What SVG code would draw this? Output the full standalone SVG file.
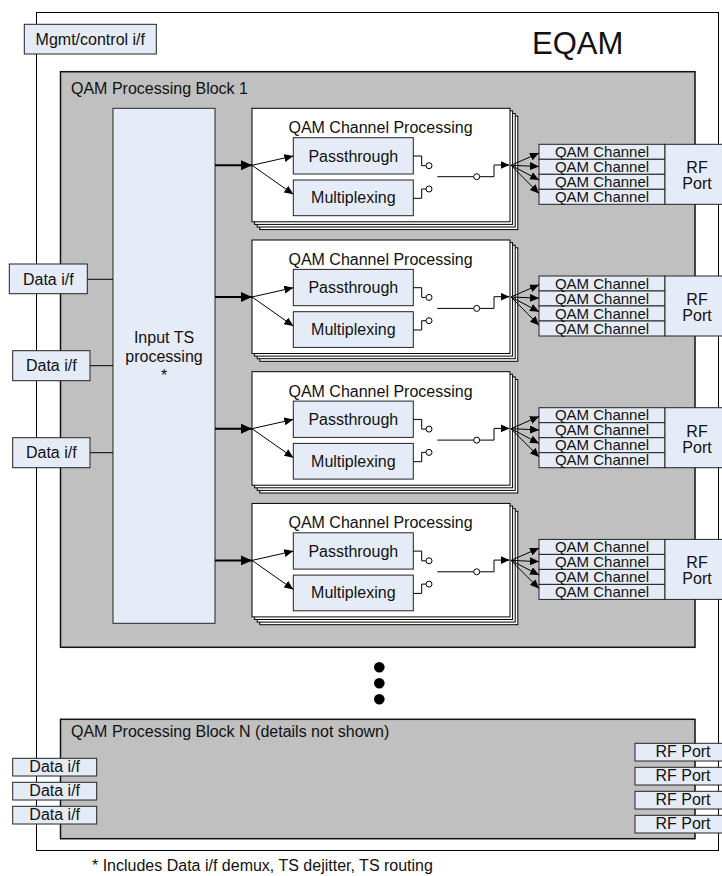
<svg xmlns="http://www.w3.org/2000/svg" width="722" height="876" viewBox="0 0 722 876">
<defs>
<style>
text{font-family:"Liberation Sans",Arial,sans-serif;fill:#111;}
.t16{font-size:16px;}
.t15{font-size:15px;}
.mid{text-anchor:middle;}
.lb{fill:#E6ECF7;stroke:#222;stroke-width:1;}
.wh{fill:#fff;stroke:#000;stroke-width:1;}
.gr{fill:#C0C0C0;stroke:#111;stroke-width:1.5;}
.ln{fill:none;stroke:#000;stroke-width:1;}
.thk{fill:none;stroke:#000;stroke-width:2;}
.sw{fill:#fff;stroke:#000;stroke-width:1;}
</style>
<marker id="ah" markerUnits="userSpaceOnUse" markerWidth="9" markerHeight="8" refX="9" refY="4" orient="auto"><path d="M0,0 L9,4 L0,8 z" fill="#000"/></marker>
<marker id="ahb" markerUnits="userSpaceOnUse" markerWidth="11" markerHeight="10" refX="11" refY="5" orient="auto"><path d="M0,0 L11,5 L0,10 z" fill="#000"/></marker>
<g id="chanproc">
<rect class="wh" x="259.8" y="7.8" width="258" height="113.5"/>
<rect class="wh" x="257.2" y="5.2" width="258" height="113.5"/>
<rect class="wh" x="254.6" y="2.6" width="258" height="113.5"/>
<rect class="wh" x="252" y="0" width="258" height="113.5"/>
<text class="t16 mid" x="380.5" y="25">QAM Channel Processing</text>
<rect class="lb" x="293.3" y="29.4" width="120" height="36.3"/>
<text class="t16 mid" x="353.3" y="53.3">Passthrough</text>
<rect class="lb" x="293.3" y="71.7" width="120" height="35.7"/>
<text class="t16 mid" x="353.3" y="95">Multiplexing</text>
</g>
<g id="qamrf">
<rect class="lb" x="539" y="36" width="126" height="15"/>
<rect class="lb" x="539" y="51" width="126" height="15"/>
<rect class="lb" x="539" y="66" width="126" height="15"/>
<rect class="lb" x="539" y="81" width="126" height="15"/>
<text class="t15 mid" x="602" y="48.5">QAM Channel</text>
<text class="t15 mid" x="602" y="63.5">QAM Channel</text>
<text class="t15 mid" x="602" y="78.5">QAM Channel</text>
<text class="t15 mid" x="602" y="93.5">QAM Channel</text>
<rect class="lb" x="665" y="36" width="65" height="60"/>
<text class="t16 mid" x="697" y="65">RF</text>
<text class="t16 mid" x="697" y="81">Port</text>
</g>
<g id="conn">
<path class="thk" d="M215,57 H252" marker-end="url(#ahb)"/>
<path class="ln" d="M252,57 L293.3,47.7" marker-end="url(#ah)"/>
<path class="ln" d="M252,57 L293.3,86" marker-end="url(#ah)"/>
<path class="ln" d="M413.3,47.7 H421.7 V57.4 H426"/>
<circle class="sw" cx="429" cy="57.4" r="3"/>
<path class="ln" d="M413.3,90 H421.7 V80.7 H426"/>
<circle class="sw" cx="429" cy="80.7" r="3"/>
<path class="ln" d="M437.3,68.4 H473.7"/>
<circle class="sw" cx="476.7" cy="68.4" r="3"/>
<path class="ln" d="M479.7,68.4 H494 V56.7 H509.5" marker-end="url(#ah)"/>
<path class="ln" d="M511,57 L539,44.7" marker-end="url(#ah)"/>
<path class="ln" d="M511,57 L539,58.2" marker-end="url(#ah)"/>
<path class="ln" d="M511,57 L539,71.7" marker-end="url(#ah)"/>
<path class="ln" d="M511,57 L539,85.2" marker-end="url(#ah)"/>
</g>
</defs>

<g id="eqam">
<rect class="wh" x="36.5" y="12.5" width="682" height="838"/>
<text x="532" y="54.3" style="font-size:31px">EQAM</text>
</g>

<g id="mgmt">
<rect class="lb" x="24.3" y="24.3" width="132" height="29.7"/>
<text class="t16 mid" x="90.3" y="44.5">Mgmt/control i/f</text>
</g>

<g id="block1">
<rect class="gr" x="60.5" y="71.7" width="634.5" height="575.6"/>
<text class="t16" x="71" y="93.5">QAM Processing Block 1</text>
</g>

<g id="input-ts">
<rect class="lb" x="113" y="108.3" width="102" height="515"/>
<text class="t16 mid" x="164" y="343">Input TS</text>
<text class="t16 mid" x="164" y="362">processing</text>
<text class="t16 mid" x="164" y="381">*</text>
</g>

<g id="chan1"><use href="#chanproc" transform="translate(0,108.3)"/><use href="#qamrf" transform="translate(0,108.3)"/></g>
<g id="chan2"><use href="#chanproc" transform="translate(0,240)"/><use href="#qamrf" transform="translate(0,240)"/></g>
<g id="chan3"><use href="#chanproc" transform="translate(0,371.7)"/><use href="#qamrf" transform="translate(0,371.7)"/></g>
<g id="chan4"><use href="#chanproc" transform="translate(0,503.4)"/><use href="#qamrf" transform="translate(0,503.4)"/></g>

<g id="connectors">
<use href="#conn" transform="translate(0,108.3)"/>
<use href="#conn" transform="translate(0,240)"/>
<use href="#conn" transform="translate(0,371.7)"/>
<use href="#conn" transform="translate(0,503.4)"/>
<path class="ln" d="M87.3,279.3 H113"/>
<path class="ln" d="M90,365.7 H113"/>
<path class="ln" d="M90,452.7 H113"/>
</g>

<g id="data1"><rect class="lb" x="9.3" y="264" width="78" height="29.7"/><text class="t16 mid" x="48.3" y="284.5">Data i/f</text></g>
<g id="data2"><rect class="lb" x="12.7" y="350.7" width="77.3" height="30"/><text class="t16 mid" x="51.3" y="371.2">Data i/f</text></g>
<g id="data3"><rect class="lb" x="12.7" y="437.7" width="77.3" height="30"/><text class="t16 mid" x="51.3" y="458.2">Data i/f</text></g>

<g id="dots">
<circle cx="379.3" cy="667.3" r="5.3" fill="#000"/>
<circle cx="379.3" cy="683.3" r="5.3" fill="#000"/>
<circle cx="379.3" cy="699.3" r="5.3" fill="#000"/>
</g>

<g id="blockN">
<rect class="gr" x="60.5" y="719.3" width="634.5" height="119.4"/>
<text class="t16" x="71" y="737">QAM Processing Block N (details not shown)</text>
</g>

<g id="dataN1"><rect class="lb" x="12.7" y="758.3" width="84" height="17.7"/><text class="t16 mid" x="54.7" y="772.3">Data i/f</text></g>
<g id="dataN2"><rect class="lb" x="12.7" y="782.3" width="84" height="17.7"/><text class="t16 mid" x="54.7" y="796.3">Data i/f</text></g>
<g id="dataN3"><rect class="lb" x="12.7" y="806.3" width="84" height="17.7"/><text class="t16 mid" x="54.7" y="820.3">Data i/f</text></g>

<g id="rfN1"><rect class="lb" x="635" y="743.3" width="95" height="17.7"/><text class="t16 mid" x="683" y="757.3">RF Port</text></g>
<g id="rfN2"><rect class="lb" x="635" y="767.3" width="95" height="17.7"/><text class="t16 mid" x="683" y="781.3">RF Port</text></g>
<g id="rfN3"><rect class="lb" x="635" y="791.3" width="95" height="17.7"/><text class="t16 mid" x="683" y="805.3">RF Port</text></g>
<g id="rfN4"><rect class="lb" x="635" y="815.3" width="95" height="17.7"/><text class="t16 mid" x="683" y="829.3">RF Port</text></g>

<g id="footnote">
<text class="t16" x="92" y="871">* Includes Data i/f demux, TS dejitter, TS routing</text>
</g>
</svg>
